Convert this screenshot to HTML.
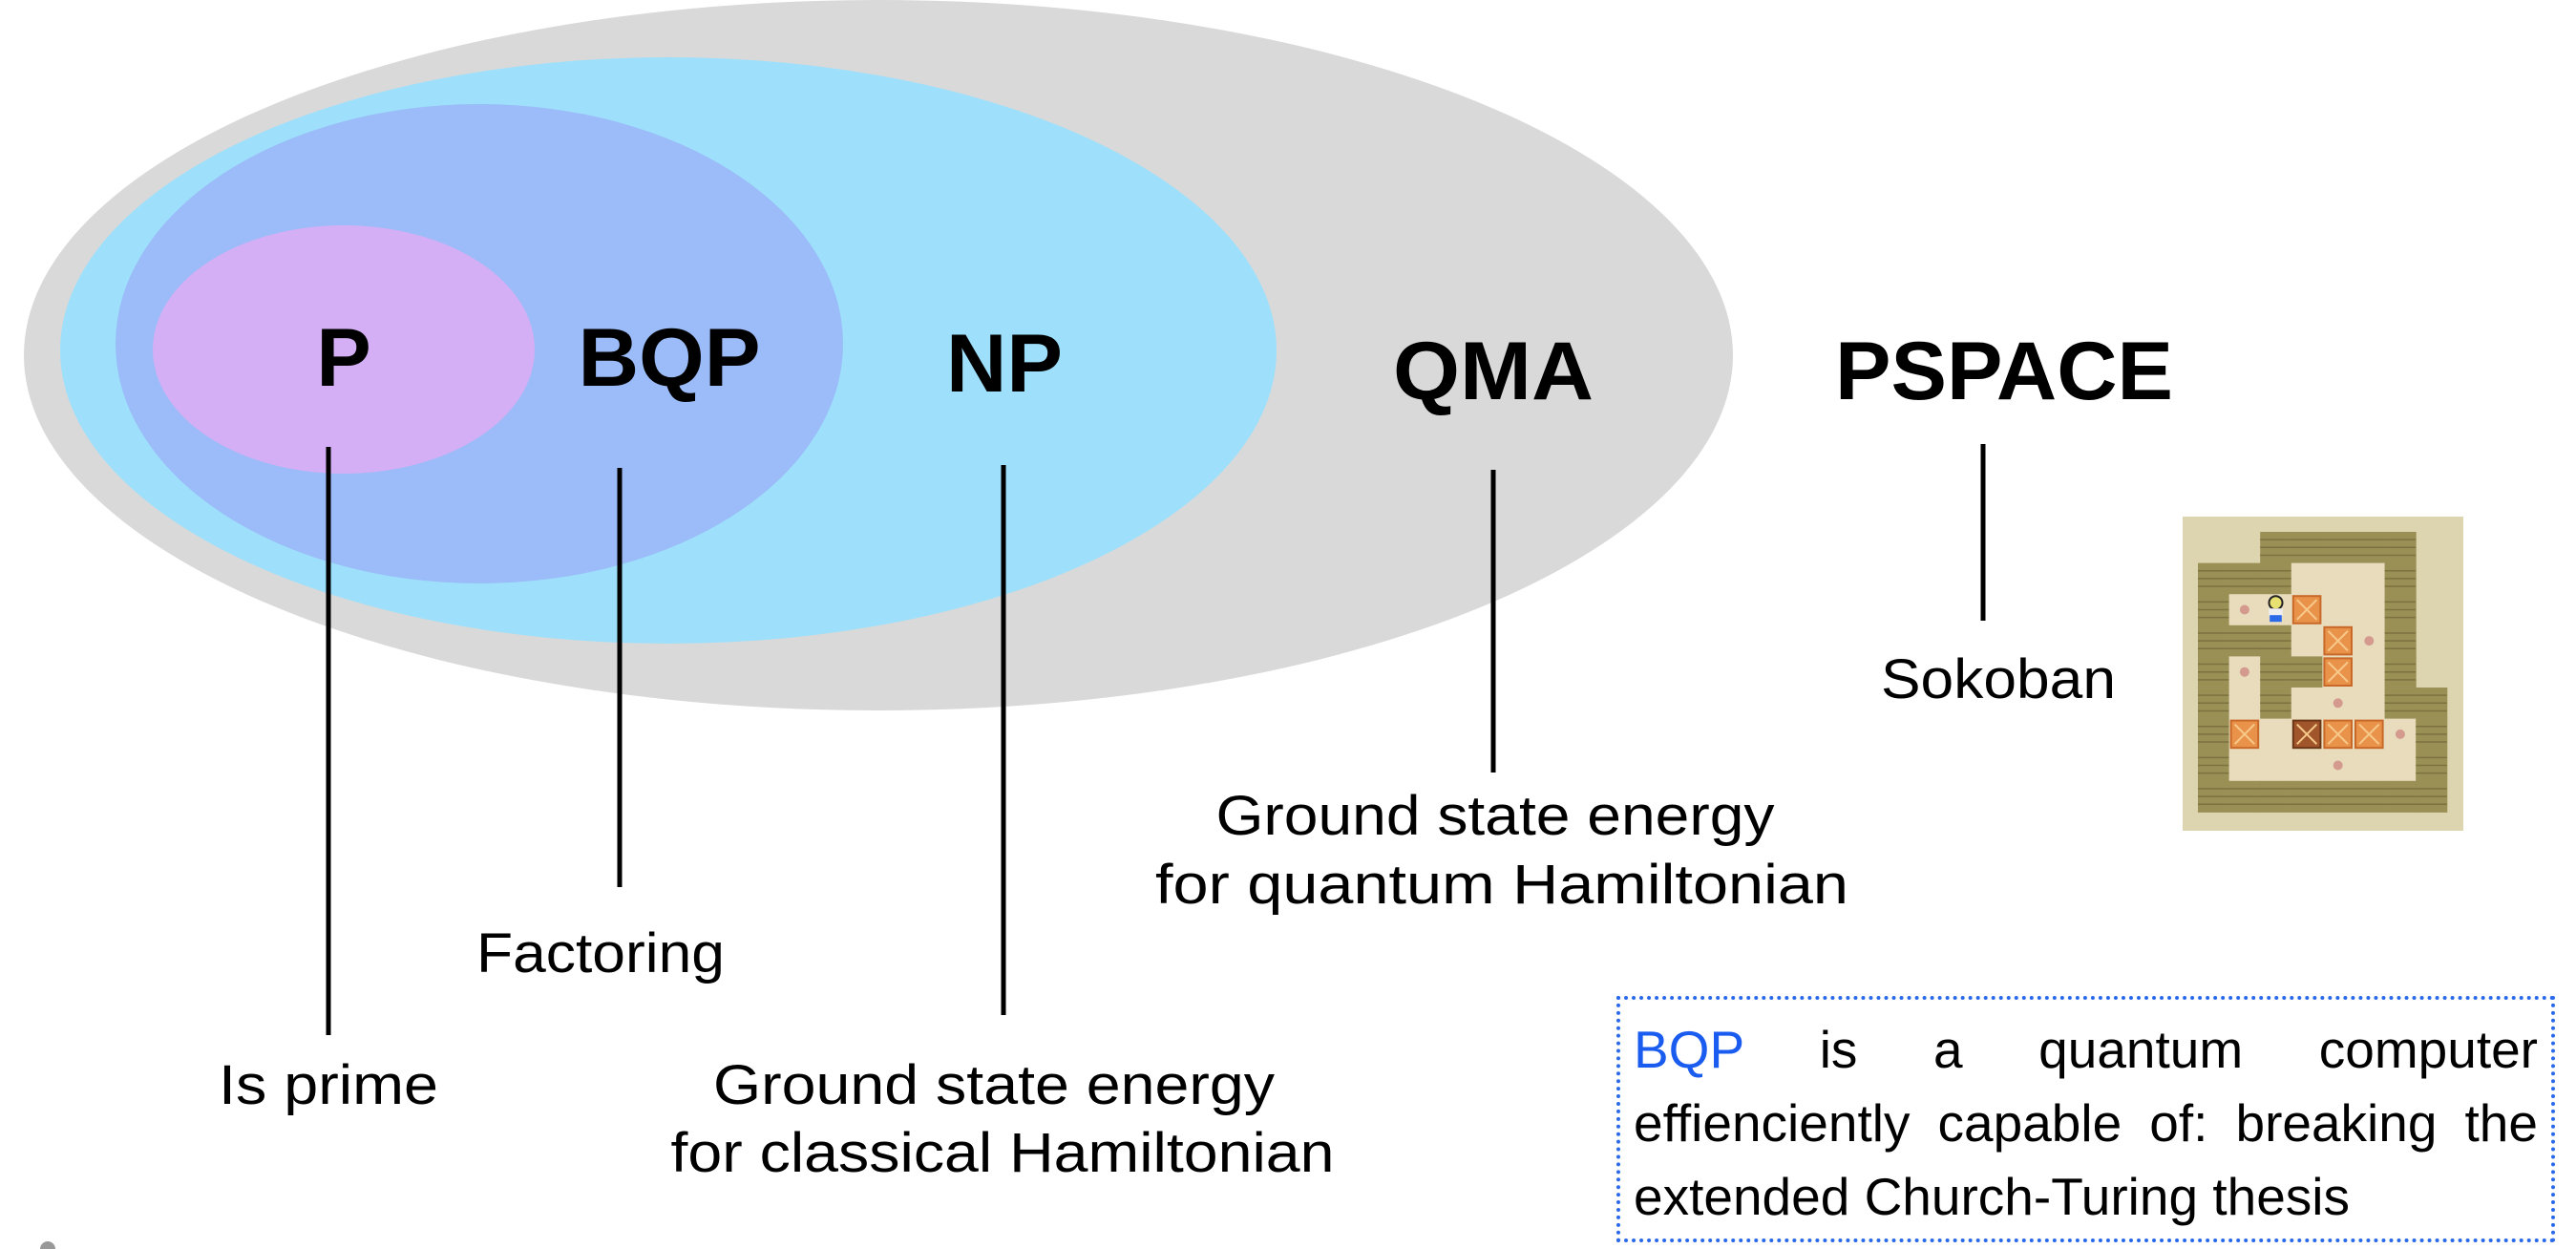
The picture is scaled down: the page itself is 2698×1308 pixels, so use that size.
<!DOCTYPE html>
<html><head><meta charset="utf-8">
<style>
html,body{margin:0;padding:0;background:#fff;}
body{width:2698px;height:1308px;position:relative;overflow:hidden;font-family:"Liberation Sans",sans-serif;}
svg{position:absolute;left:0;top:0;}
#note{position:absolute;left:1693px;top:1043px;width:983px;height:258px;border:4px dotted #2a6ae8;box-sizing:border-box;padding:14px 14px 0 14px;font-size:55px;line-height:77px;color:#000;}
#note .ln{display:block;text-align:justify;text-align-last:justify;white-space:nowrap;}
#note .last{text-align-last:left;}
#note .bqp{color:#1a5cf0;}
</style></head>
<body>
<svg width="2698" height="1308" viewBox="0 0 2698 1308">
  <ellipse cx="920" cy="372" rx="895" ry="372" fill="#d9d9d9"/>
  <ellipse cx="700" cy="367" rx="637" ry="307" fill="#9ee0fb"/>
  <ellipse cx="502" cy="360" rx="381" ry="251" fill="#9bbcf8"/>
  <ellipse cx="360" cy="366" rx="200" ry="130" fill="#d4aff5"/>

  <g font-family="Liberation Sans, sans-serif" font-weight="bold" font-size="86" text-anchor="middle" fill="#000">
    <text x="360" y="404">P</text>
    <text x="701" y="404" textLength="191" lengthAdjust="spacingAndGlyphs">BQP</text>
    <text x="1052" y="410" textLength="122" lengthAdjust="spacingAndGlyphs">NP</text>
    <text x="1564" y="418" textLength="210" lengthAdjust="spacingAndGlyphs">QMA</text>
    <text x="2099" y="418" textLength="354" lengthAdjust="spacingAndGlyphs">PSPACE</text>
  </g>

  <g stroke="#000" stroke-width="5">
    <line x1="344" y1="468" x2="344" y2="1084"/>
    <line x1="649" y1="490" x2="649" y2="929"/>
    <line x1="1051" y1="487" x2="1051" y2="1063"/>
    <line x1="1564" y1="492" x2="1564" y2="809"/>
    <line x1="2077" y1="465" x2="2077" y2="650"/>
  </g>

  <g font-family="Liberation Sans, sans-serif" font-size="58" text-anchor="middle" fill="#000">
    <text x="2093" y="731" textLength="246" lengthAdjust="spacingAndGlyphs">Sokoban</text>
    <text x="1566" y="874" textLength="585" lengthAdjust="spacingAndGlyphs">Ground state energy</text>
    <text x="1573" y="946" textLength="726" lengthAdjust="spacingAndGlyphs">for quantum Hamiltonian</text>
    <text x="629" y="1018" textLength="260" lengthAdjust="spacingAndGlyphs">Factoring</text>
    <text x="344" y="1156" textLength="230" lengthAdjust="spacingAndGlyphs">Is prime</text>
    <text x="1041" y="1156" textLength="588" lengthAdjust="spacingAndGlyphs">Ground state energy</text>
    <text x="1050" y="1227" textLength="695" lengthAdjust="spacingAndGlyphs">for classical Hamiltonian</text>
  </g>

  <g id="soko">
    <rect x="2286" y="541" width="294" height="329" fill="#ddd5b0"/>
  </g>
  <circle cx="50" cy="1308" r="8" fill="#999"/>
</svg>

<div id="note">
  <span class="ln"><span class="bqp">BQP</span> is a quantum computer</span>
  <span class="ln">effienciently capable of: breaking the</span>
  <span class="ln last">extended Church-Turing thesis</span>
</div>

<script>
// Sokoban map: W wall, . floor, g goal, b box, d box-on-goal, m man, ' ' empty
const sokoRows = [
  "  WWWWW ",
  "WWW...W ",
  "Wgmb..W ",
  "WWW.bgW ",
  "WgWWb.W ",
  "W.W.g.WW",
  "Wb.dbbgW",
  "W...g..W",
  "WWWWWWWW"
];
const ns = "http://www.w3.org/2000/svg";
const g = document.getElementById('soko');
const ox = 2302, oy = 557, cs = 32.6;
function mk(tag, attrs){const e=document.createElementNS(ns,tag);for(const k in attrs)e.setAttribute(k,attrs[k]);g.appendChild(e);return e;}
sokoRows.forEach((row, r) => {
  [...row].forEach((c, col) => {
    if (c === ' ') return;
    const x = ox + col*cs, y = oy + r*cs;
    if (c === 'W') {
      const e = mk('rect',{x:x,y:y,width:cs+0.5,height:cs+0.5,fill:'#9a8f55'});
      
      
      for (let k=1;k<4;k++){
        const l = mk('line',{x1:x,y1:y+k*cs/4,x2:x+cs,y2:y+k*cs/4,stroke:'#7c7240','stroke-width':1.5});
        
        
      }
      return;
    }
    const f = mk('rect',{x:x,y:y,width:cs+0.5,height:cs+0.5,fill:'#e8dcbc'});
    
    
    if (c === 'g') {
      const d = mk('circle',{cx:x+cs/2,cy:y+cs/2,r:5,fill:'#d49a8e'});
      
      
    }
    if (c === 'b' || c === 'd') {
      const b = mk('rect',{x:x+2,y:y+2,width:cs-4,height:cs-4,fill:c==='d'?'#a0552a':'#e8924a',stroke:c==='d'?'#6b3616':'#c8692a','stroke-width':2});
      
      
      const l1 = mk('line',{x1:x+6,y1:y+6,x2:x+cs-6,y2:y+cs-6,stroke:'#f7c98a','stroke-width':2});
      
      
      const l2 = mk('line',{x1:x+cs-6,y1:y+6,x2:x+6,y2:y+cs-6,stroke:'#f7c98a','stroke-width':2});
      
      
    }
    if (c === 'm') {
      const h = mk('circle',{cx:x+cs/2,cy:y+9,r:7,fill:'#e8e070',stroke:'#222','stroke-width':2});
      
      
      const bd = mk('rect',{x:x+9,y:y+15,width:cs-18,height:8,fill:'#eee'});
      
      
      const lg = mk('rect',{x:x+10,y:y+22,width:cs-20,height:7,fill:'#2a6ae8'});
      
      
    }
  });
});
</script>
</body></html>
